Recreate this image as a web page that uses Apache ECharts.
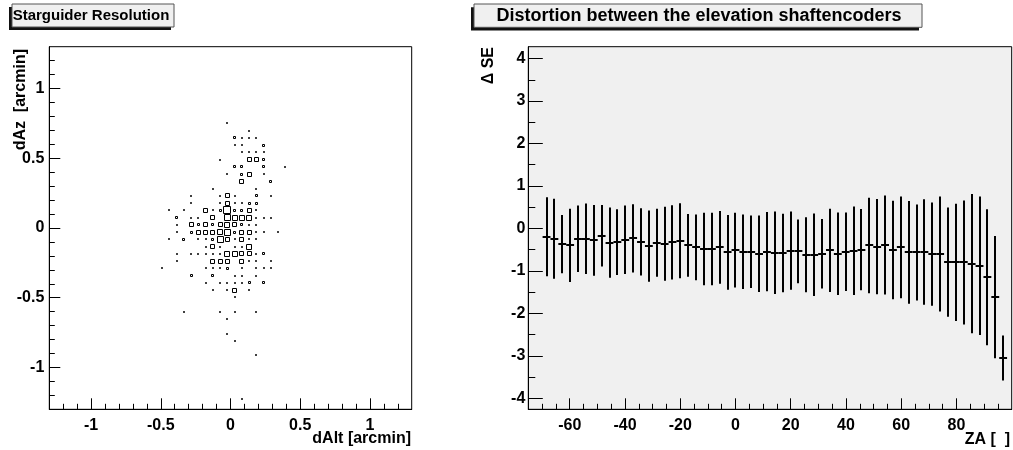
<!DOCTYPE html>
<html>
<head>
<meta charset="utf-8">
<script src="https://cdn.jsdelivr.net/npm/echarts@6/dist/echarts.min.js"></script>
<style>
html,body{margin:0;padding:0;background:#fff;}
#c{width:1013px;height:450px;}
</style>
</head>
<body>
<div id="c"></div>
<script>
// ---------------- Left: Starguider Resolution (2D box histogram) ----------------
const resBinWidth = 0.052;           // arcmin, histogram bin width
const resMaxCount = 6;
const resAxisTicks = [-1, -0.5, 0, 0.5, 1];
// rows of the 2D histogram (dAz bin centers) with the occupied dAlt bins and counts
const dAzRows = [0.754, 0.702, 0.650, 0.598, 0.546, 0.494, 0.442, 0.390, 0.338, 0.286,
  0.234, 0.182, 0.130, 0.078, 0.026, -0.026, -0.078, -0.130, -0.182, -0.234,
  -0.286, -0.338, -0.390, -0.442, -0.494, -0.598, -0.650, -0.754, -0.806, -0.910, -1.222];
const dAltInRow = [
  [-0.026],
  [0.130],
  [0.026, 0.078, 0.130, 0.182],
  [0.026, 0.078, 0.234],
  [0.078, 0.130, 0.182, 0.234],
  [-0.078, 0.130, 0.182, 0.234],
  [0.026, 0.078, 0.234, 0.390],
  [-0.026, 0.078, 0.130, 0.234],
  [0.078, 0.286],
  [-0.130, 0.182],
  [-0.286, -0.078, -0.026, 0.026, 0.182, 0.286],
  [-0.286, -0.078, -0.026, 0.026, 0.078, 0.130, 0.182],
  [-0.442, -0.338, -0.182, -0.130, -0.078, -0.026, 0.026, 0.078, 0.130, 0.182],
  [-0.390, -0.286, -0.234, -0.130, -0.026, 0.026, 0.078, 0.130, 0.182, 0.234, 0.286],
  [-0.390, -0.286, -0.234, -0.182, -0.130, -0.078, -0.026, 0.026, 0.078, 0.130, 0.182],
  [-0.390, -0.286, -0.234, -0.182, -0.130, -0.078, -0.026, 0.026, 0.078, 0.130, 0.182, 0.234, 0.338],
  [-0.442, -0.338, -0.234, -0.182, -0.130, -0.078, -0.026, 0.026, 0.078, 0.130, 0.182],
  [-0.182, -0.130, -0.078, 0.026, 0.078, 0.130],
  [-0.390, -0.286, -0.234, -0.182, -0.130, -0.078, -0.026, 0.026, 0.078, 0.130, 0.182, 0.234],
  [-0.390, -0.130, -0.078, -0.026, 0.078, 0.130, 0.182, 0.286],
  [-0.494, -0.182, -0.130, -0.078, -0.026, 0.078, 0.182, 0.234, 0.286],
  [-0.286, -0.130, 0.026, 0.078, 0.182],
  [-0.182, -0.078, -0.026, 0.026, 0.078, 0.130, 0.234],
  [-0.130, -0.026, 0.026, 0.130],
  [0.026],
  [-0.338, -0.078, 0.026, 0.182],
  [-0.026],
  [-0.026],
  [0.026],
  [0.182],
  [0.078]
];
const countInRow = [
  [1],
  [1],
  [2, 1, 1, 1],
  [1, 1, 2],
  [1, 1, 1, 1],
  [1, 3, 3, 2],
  [2, 2, 2, 1],
  [1, 2, 3, 1],
  [3, 2],
  [1, 1],
  [1, 1, 3, 1, 2, 1],
  [1, 1, 3, 1, 1, 2, 2],
  [1, 1, 3, 1, 2, 6, 2, 2, 3, 1],
  [2, 1, 1, 3, 5, 4, 4, 4, 1, 1, 1],
  [1, 3, 2, 3, 2, 3, 4, 3, 2, 1, 1],
  [1, 2, 3, 3, 3, 4, 5, 2, 3, 3, 1, 1, 1],
  [1, 2, 1, 1, 2, 5, 3, 1, 3, 1, 1],
  [1, 3, 1, 1, 1, 4],
  [1, 1, 1, 1, 1, 1, 4, 4, 3, 3, 1, 2],
  [1, 3, 3, 3, 3, 1, 1, 1],
  [1, 1, 1, 1, 2, 1, 1, 1, 1],
  [2, 2, 1, 1, 1],
  [1, 1, 1, 1, 1, 2, 2],
  [1, 1, 3, 1],
  [1],
  [1, 1, 1, 1],
  [1],
  [1],
  [1],
  [1],
  [1]
];

// ---------------- Right: Distortion between the elevation shaftencoders ----------------
const zaBinWidth = 2.85;
const zaTicks = [-60, -40, -20, 0, 20, 40, 60, 80];
const seTicks = [-4, -3, -2, -1, 0, 1, 2, 3, 4];
const zaCenters = [-68.40, -65.55, -62.70, -59.85, -57.00, -54.15, -51.30, -48.45, -45.60, -42.75,
  -39.90, -37.05, -34.20, -31.35, -28.50, -25.65, -22.80, -19.95, -17.10, -14.25,
  -11.40, -8.55, -5.70, -2.85, 0.00, 2.85, 5.70, 8.55, 11.40, 14.25,
  17.10, 19.95, 22.80, 25.65, 28.50, 31.35, 34.20, 37.05, 39.90, 42.75,
  45.60, 48.45, 51.30, 54.15, 57.00, 59.85, 62.70, 65.55, 68.40, 71.25,
  74.10, 76.95, 79.80, 82.65, 85.50, 88.35, 91.20, 94.05, 96.90];
const seMean = [-0.196, -0.243, -0.369, -0.400, -0.243, -0.243, -0.282, -0.173, -0.337, -0.322,
  -0.267, -0.235, -0.314, -0.416, -0.337, -0.361, -0.329, -0.290, -0.400, -0.447,
  -0.486, -0.486, -0.447, -0.565, -0.510, -0.549, -0.549, -0.596, -0.549, -0.573,
  -0.580, -0.525, -0.541, -0.620, -0.620, -0.596, -0.518, -0.596, -0.549, -0.525,
  -0.502, -0.400, -0.431, -0.392, -0.510, -0.447, -0.565, -0.565, -0.557, -0.604,
  -0.604, -0.792, -0.80, -0.80, -0.83, -0.88, -1.15, -1.62, -3.05];
const seErr = [0.933, 0.941, 0.686, 0.863, 0.784, 0.831, 0.831, 0.725, 0.827, 0.776,
  0.804, 0.804, 0.792, 0.839, 0.800, 0.871, 0.875, 0.882, 0.737, 0.773,
  0.855, 0.855, 0.855, 0.882, 0.882, 0.878, 0.855, 0.902, 0.933, 0.969,
  0.925, 0.922, 0.749, 0.886, 0.973, 0.816, 0.980, 0.973, 0.925, 1.043,
  0.957, 1.125, 1.122, 1.165, 1.161, 1.196, 1.208, 1.130, 1.243, 1.216,
  1.353, 1.286, 1.38, 1.46, 1.64, 1.63, 1.60, 1.44, 0.53];

// ---------------- build ----------------
const FONT = '"Liberation Sans", Arial, Helvetica, sans-serif';
function minorList(a, b, step, majors) {
  const out = [];
  for (let v = a; v <= b + 1e-9; v += step) {
    const r = Math.round(v * 1000) / 1000;
    if (!majors.some(m => Math.abs(m - r) < 1e-6)) out.push(r);
  }
  return out;
}
const resData = [];
dAzRows.forEach((y, r) => {
  dAltInRow[r].forEach((x, k) => resData.push([x, y, countInRow[r][k]]));
});
const seData = zaCenters.map((z, i) => [z, seMean[i], seErr[i]]);

const labelStyle = {color: '#000', fontFamily: FONT, fontWeight: 'bold', fontSize: 16};

function majorAxis(extra) {
  return Object.assign({
    type: 'value',
    splitLine: {show: false},
    axisLine: {show: true, onZero: false, lineStyle: {color: '#000', width: 1}},
  }, extra);
}

const chart = echarts.init(document.getElementById('c'), null, {renderer: 'canvas'});
chart.setOption({
  animation: false,
  backgroundColor: '#fff',
  grid: [
    {left: 49.3, top: 46.7, width: 362.4, height: 362.6, show: true, backgroundColor: '#fff', borderColor: '#000', borderWidth: 1},
    {left: 528.3, top: 46.7, width: 483.4, height: 362.6, show: true, backgroundColor: '#f0f0f0', borderColor: '#000', borderWidth: 1}
  ],
  xAxis: [
    majorAxis({gridIndex: 0, min: -1.3, max: 1.3, position: 'bottom',
      axisTick: {show: true, inside: true, length: 11, customValues: resAxisTicks, lineStyle: {color: '#000'}},
      axisLabel: Object.assign({customValues: resAxisTicks, margin: 8}, labelStyle)}),
    {type: 'value', gridIndex: 0, min: -1.3, max: 1.3, position: 'bottom', splitLine: {show: false},
      axisLine: {show: false, onZero: false}, axisLabel: {show: false},
      axisTick: {show: true, inside: true, length: 5.5, customValues: minorList(-1.2, 1.2, 0.1, resAxisTicks), lineStyle: {color: '#000'}}},
    majorAxis({gridIndex: 1, min: -75, max: 100, position: 'bottom',
      axisTick: {show: true, inside: true, length: 11, customValues: zaTicks, lineStyle: {color: '#000'}},
      axisLabel: Object.assign({customValues: zaTicks, margin: 8}, labelStyle)}),
    {type: 'value', gridIndex: 1, min: -75, max: 100, position: 'bottom', splitLine: {show: false},
      axisLine: {show: false, onZero: false}, axisLabel: {show: false},
      axisTick: {show: true, inside: true, length: 5.5, customValues: minorList(-70, 95, 5, zaTicks), lineStyle: {color: '#000'}}}
  ],
  yAxis: [
    majorAxis({gridIndex: 0, min: -1.3, max: 1.3, position: 'left',
      axisTick: {show: true, inside: true, length: 11, customValues: resAxisTicks, lineStyle: {color: '#000'}},
      axisLabel: Object.assign({customValues: resAxisTicks, margin: 5}, labelStyle)}),
    {type: 'value', gridIndex: 0, min: -1.3, max: 1.3, position: 'left', splitLine: {show: false},
      axisLine: {show: false, onZero: false}, axisLabel: {show: false},
      axisTick: {show: true, inside: true, length: 5.5, customValues: minorList(-1.2, 1.2, 0.1, resAxisTicks), lineStyle: {color: '#000'}}},
    majorAxis({gridIndex: 1, min: -4.26, max: 4.28, position: 'left',
      axisTick: {show: true, inside: true, length: 14.5, customValues: seTicks, lineStyle: {color: '#000'}},
      axisLabel: Object.assign({customValues: seTicks, margin: 3}, labelStyle)}),
    {type: 'value', gridIndex: 1, min: -4.26, max: 4.28, position: 'left', splitLine: {show: false},
      axisLine: {show: false, onZero: false}, axisLabel: {show: false},
      axisTick: {show: true, inside: true, length: 7, customValues: minorList(-3.5, 3.5, 1, seTicks), lineStyle: {color: '#000'}}}
  ],
  series: [
    {
      type: 'custom', xAxisIndex: 0, yAxisIndex: 0,
      data: resData,
      encode: {x: 0, y: 1},
      renderItem: function (params, api) {
        const x = api.value(0), y = api.value(1), c = api.value(2);
        const s = resBinWidth * c / resMaxCount;
        const p0 = api.coord([x - s / 2, y + s / 2]);
        const p1 = api.coord([x + s / 2, y - s / 2]);
        const side = Math.max(1, Math.round(p1[0] - p0[0]));
        const cx = (p0[0] + p1[0]) / 2, cy = (p0[1] + p1[1]) / 2;
        const x0 = Math.round(cx - side / 2) + 0.5, y0 = Math.round(cy - side / 2) + 0.5;
        return {type: 'rect', shape: {x: x0, y: y0, width: side, height: side},
          style: {fill: 'none', stroke: '#000', lineWidth: 1}};
      }
    },
    {
      type: 'custom', xAxisIndex: 2, yAxisIndex: 2,
      data: seData,
      encode: {x: 0, y: 1},
      renderItem: function (params, api) {
        const z = api.value(0), m = api.value(1), e = api.value(2);
        const t = api.coord([z, m + e]);
        const b = api.coord([z, m - e]);
        const l = api.coord([z - zaBinWidth / 2, m]);
        const r = api.coord([z + zaBinWidth / 2, m]);
        const xm = Math.round(t[0]);
        const ym = Math.round(l[1]);
        return {type: 'group', children: [
          {type: 'line', shape: {x1: xm, y1: t[1], x2: xm, y2: b[1]}, style: {stroke: '#000', lineWidth: 2}},
          {type: 'line', shape: {x1: l[0], y1: ym, x2: r[0], y2: ym}, style: {stroke: '#000', lineWidth: 2}}
        ]};
      }
    }
  ],
  graphic: [
    // left title box
    {type: 'rect', shape: {x: 9, y: 7, width: 162, height: 23}, style: {fill: '#111'}},
    {type: 'rect', shape: {x: 12, y: 4, width: 162, height: 23}, style: {fill: '#f0f0f0', stroke: '#555', lineWidth: 1}},
    {type: 'text', style: {text: 'Starguider Resolution', x: 91, y: 16, font: 'bold 15px ' + FONT,
      fill: '#000', align: 'center', verticalAlign: 'middle', textAlign: 'center', textVerticalAlign: 'middle'}},
    // right title box
    {type: 'rect', shape: {x: 471, y: 7.3, width: 448, height: 23.3}, style: {fill: '#111'}},
    {type: 'rect', shape: {x: 474, y: 4, width: 448, height: 23.3}, style: {fill: '#f0f0f0', stroke: '#555', lineWidth: 1}},
    {type: 'text', style: {text: 'Distortion between the elevation shaftencoders', x: 699, y: 16, font: 'bold 18px ' + FONT,
      fill: '#000', align: 'center', verticalAlign: 'middle', textAlign: 'center', textVerticalAlign: 'middle'}},
    // axis titles
    {type: 'text', style: {text: 'dAlt [arcmin]', x: 411, y: 439, font: 'bold 16px ' + FONT,
      fill: '#000', align: 'right', verticalAlign: 'middle', textAlign: 'right', textVerticalAlign: 'middle'}},
    {type: 'text', x: 20.5, y: 49, rotation: Math.PI / 2, style: {text: 'dAz  [arcmin]', x: 0, y: 0, font: 'bold 16px ' + FONT,
      fill: '#000', align: 'right', verticalAlign: 'middle', textAlign: 'right', textVerticalAlign: 'middle'}},
    {type: 'text', style: {text: 'ZA [  ]', x: 1010, y: 440, font: 'bold 16px ' + FONT,
      fill: '#000', align: 'right', verticalAlign: 'middle', textAlign: 'right', textVerticalAlign: 'middle'}},
    {type: 'text', x: 488.5, y: 47, rotation: Math.PI / 2, style: {text: '\u0394 SE', x: 0, y: 0, font: 'bold 16px ' + FONT,
      fill: '#000', align: 'right', verticalAlign: 'middle', textAlign: 'right', textVerticalAlign: 'middle'}}
  ]
});
</script>
</body>
</html>
